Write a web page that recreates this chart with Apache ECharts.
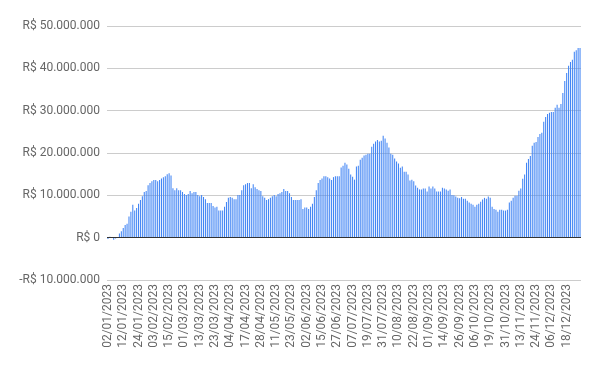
<!DOCTYPE html>
<html>
<head>
<meta charset="utf-8">
<script src="https://cdn.jsdelivr.net/npm/echarts@6/dist/echarts.min.js"></script>
<style>
html,body{margin:0;padding:0;background:#fff;}
#chart{width:600px;height:371px;}
</style>
</head>
<body>
<div id="chart"></div>
<script>
// Trading days (B3, 2023) per month
const daysJan = [2,3,4,5,6,9,10,11,12,13,16,17,18,19,20,23,24,25,26,27,30,31];
const daysFeb = [1,2,3,6,7,8,9,10,13,14,15,16,17,22,23,24,27,28];
const daysMar = [1,2,3,6,7,8,9,10,13,14,15,16,17,20,21,22,23,24,27,28,29,30,31];
const daysApr = [3,4,5,6,10,11,12,13,14,17,18,19,20,24,25,26,27,28];
const daysMay = [2,3,4,5,8,9,10,11,12,15,16,17,18,19,22,23,24,25,26,29,30,31];
const daysJun = [1,2,5,6,7,9,12,13,14,15,16,19,20,21,22,23,26,27,28,29,30];
const daysJul = [3,4,5,6,7,10,11,12,13,14,17,18,19,20,21,24,25,26,27,28,31];
const daysAug = [1,2,3,4,7,8,9,10,11,14,15,16,17,18,21,22,23,24,25,28,29,30,31];
const daysSep = [1,4,5,6,8,11,12,13,14,15,18,19,20,21,22,25,26,27,28,29];
const daysOct = [2,3,4,5,6,9,10,11,13,16,17,18,19,20,23,24,25,26,27,30,31];
const daysNov = [1,3,6,7,8,9,10,13,14,16,17,20,21,22,23,24,27,28,29,30];
const daysDec = [1,4,5,6,7,8,11,12,13,14,15,18,19,20,21,22,26,27,28];

// Values in millions of R$
const valJan = [-0.3,0.2,0,-0.5,-0.2,0.1,1.0,1.5,2.3,3.0,3.3,5.0,6.1,7.8,6.4,7.0,8.0,8.9,9.8,10.8,11.0,12.4];
const valFeb = [12.9,13.3,13.6,13.6,13.3,13.6,14.0,14.3,14.5,15.0,15.2,14.7,11.7,11.2,11.7,11.2,11.2,10.8];
const valMar = [10.3,10.1,10.3,11.0,10.5,10.8,10.8,10.1,9.8,10.1,9.6,9.1,8.2,8.2,8.2,7.5,7.1,7.3,6.4,6.4,6.4,7.3,8.4];
const valApr = [9.4,9.6,9.4,9.1,9.1,10.1,10.1,11.2,12.4,12.6,12.9,12.9,11.7,12.6,11.9,11.5,11.2,11.0];
const valMay = [9.8,9.4,8.9,9.1,9.4,9.8,10.1,9.8,10.3,10.5,10.8,11.5,11.0,11.0,10.5,9.6,8.9,8.9,8.9,8.9,9.1,6.8];
const valJun = [7.1,7.1,6.8,7.3,8.0,9.6,11.2,12.9,13.6,14.0,14.5,14.5,14.3,14.0,13.6,14.3,14.5,14.5,14.5,16.6,17.0];
const valJul = [17.7,17.3,16.3,14.9,14.4,13.7,16.8,17.0,18.4,18.9,19.4,19.6,19.8,19.8,21.5,22.2,22.7,23.1,22.7,22.9,24.1];
const valAug = [23.4,22.4,21.3,19.8,19.6,18.7,18.0,17.5,16.5,16.8,15.6,15.6,14.9,13.5,13.7,13.3,12.3,11.8,11.4,11.4,11.6,11.6,10.9];
const valSep = [12.1,11.6,12.1,11.6,10.9,10.9,10.9,11.8,11.6,11.4,11.1,11.4,10.1,10.0,9.7,9.4,9.3,9.6,9.2,9.2];
const valOct = [8.7,8.3,8.0,7.8,7.3,7.8,8.0,8.5,9.0,9.4,9.2,9.7,9.4,7.3,6.8,6.6,6.1,6.6,6.6,6.4,6.4];
const valNov = [6.6,8.3,8.7,9.4,9.9,9.9,11.1,11.6,13.9,14.9,17.7,18.6,19.3,21.7,22.4,22.6,23.8,24.5,24.8,27.4];
const valDec = [28.5,29.2,29.5,29.7,29.7,30.7,31.4,30.7,31.6,34.2,37.0,38.9,40.6,41.5,42.0,43.9,44.3,44.8,44.8];

// Y axis ticks (millions)
const yTicks = { min: -10, max: 50, step: 10 };

const monthDays = [daysJan,daysFeb,daysMar,daysApr,daysMay,daysJun,daysJul,daysAug,daysSep,daysOct,daysNov,daysDec];
const monthVals = [valJan,valFeb,valMar,valApr,valMay,valJun,valJul,valAug,valSep,valOct,valNov,valDec];

const pad = n => (n < 10 ? '0' : '') + n;
const categories = [];
const values = [];
monthDays.forEach((days, m) => {
  days.forEach((d, i) => {
    categories.push(pad(d) + '/' + pad(m + 1) + '/2023');
    values.push(monthVals[m][i]);
  });
});

function fmtBRL(v) {
  const n = Math.round(Math.abs(v) * 1e6).toString().replace(/\B(?=(\d{3})+(?!\d))/g, '.');
  return (v < 0 ? '-' : '') + 'R$ ' + n;
}

const chart = echarts.init(document.getElementById('chart'), null, { renderer: 'canvas' });
chart.setOption({
  animation: false,
  backgroundColor: '#ffffff',
  grid: { left: 107, right: 19, top: 26, bottom: 91, containLabel: false },
  xAxis: {
    type: 'category',
    data: categories,
    axisLine: { show: false, onZero: false },
    axisTick: { show: false },
    axisLabel: {
      interval: 7,
      rotate: 90,
      margin: 4,
      color: '#666666',
      fontFamily: 'Roboto',
      fontSize: 12
    },
    splitLine: { show: false }
  },
  yAxis: {
    type: 'value',
    min: yTicks.min,
    max: yTicks.max,
    interval: yTicks.step,
    axisLine: { show: false },
    axisTick: { show: false },
    axisLabel: {
      margin: 7,
      color: '#666666',
      fontFamily: 'Roboto',
      fontSize: 12,
      formatter: fmtBRL
    },
    splitLine: { lineStyle: { color: '#cccccc', width: 1 } }
  },
  series: [{
    type: 'bar',
    data: values,
    barWidth: '55%',
    itemStyle: { color: '#4285F4' },
    markLine: {
      silent: true,
      symbol: 'none',
      label: { show: false },
      lineStyle: { color: '#333333', width: 1, type: 'solid' },
      data: [{ yAxis: 0 }]
    }
  }]
});
</script>
</body>
</html>
